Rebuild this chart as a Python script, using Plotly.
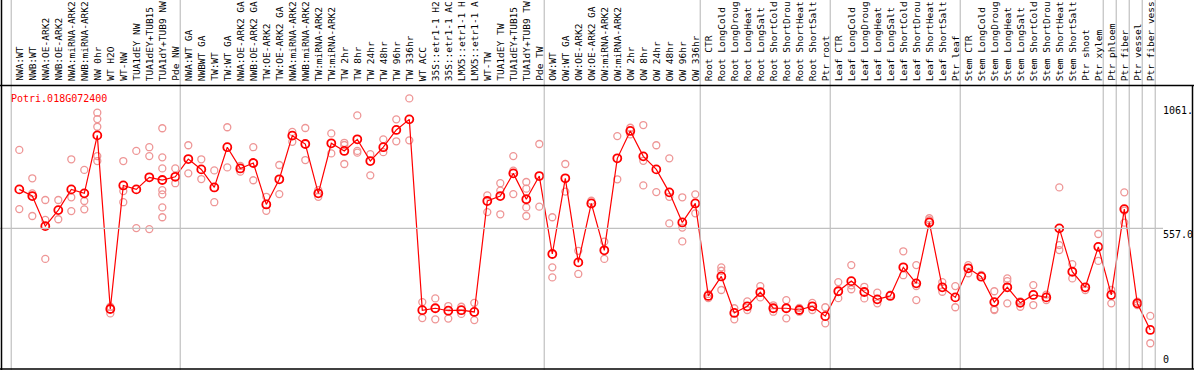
import plotly.graph_objects as go

gene = "Potri.018G072400"

categories = [
    "NWA:WT", "NWB:WT", "NWA:OE-ARK2", "NWB:OE-ARK2", "NWA:miRNA-ARK2", "NWB:miRNA-ARK2",
    "NW 0hr", "WT H2O", "WT-NW", "TUA1dEY NW", "TUA1dEY+TUB15 NW", "TUA1dY+TUB9 NW", "Pde NW",
    "NWA:WT GA", "NWBWT GA", "TW:WT", "TW:WT GA", "NWA:OE-ARK2 GA", "NWB:OE-ARK2 GA",
    "TW:OE-ARK2", "TW:OE-ARK2 GA", "NWA:miRNA-ARK2 GA", "NWB:miRNA-ARK2 GA", "TW:miRNA-ARK2",
    "TW:miRNA-ARK2 GA", "TW 2hr", "TW 8hr", "TW 24hr", "TW 48hr", "TW 96hr", "TW 336hr",
    "WT ACC", "35S::etr1-1 H2O", "35S::etr1-1 ACC", "LMX5::etr1-1 H2O", "LMX5::etr1-1 ACC",
    "WT-TW", "TUA1dEY TW", "TUA1dEY+TUB15 TW", "TUA1dY+TUB9 TW", "Pde TW",
    "OW:WT", "OW:WT GA", "OW:OE-ARK2", "OW:OE-ARK2 GA", "OW:miRNA-ARK2", "OW:miRNA-ARK2 GA",
    "OW 2hr", "OW 8hr", "OW 24hr", "OW 48hr", "OW 96hr", "OW 336hr",
    "Root CTR", "Root LongCold", "Root LongDrought", "Root LongHeat", "Root LongSalt",
    "Root ShortCold", "Root ShortDrought", "Root ShortHeat", "Root ShortSalt", "Ptr root",
    "Leaf CTR", "Leaf LongCold", "Leaf LongDrought", "Leaf LongHeat", "Leaf LongSalt",
    "Leaf ShortCold", "Leaf ShortDrought", "Leaf ShortHeat", "Leaf ShortSalt", "Ptr leaf",
    "Stem CTR", "Stem LongCold", "Stem LongDrought", "Stem LongHeat", "Stem LongSalt",
    "Stem ShortCold", "Stem ShortDrought", "Stem ShortHeat", "Stem ShortSalt", "Ptr shoot",
    "Ptr xylem", "Ptr phloem", "Ptr fiber", "Ptr vessel", "Ptr fiber vessel",
]

means = [
    715, 688, 566, 631, 715, 699, 934, 230, 731, 715, 764, 753, 766,
    838, 796, 723, 886, 800, 822, 654, 756, 933, 899, 699, 902, 871, 918, 830, 886, 956, 999,
    225, 233, 223, 225, 218, 668, 688, 780, 675, 769,
    453, 760, 419, 658, 468, 841, 952, 849, 796, 703, 581, 658,
    283, 362, 214, 241, 298, 233, 233, 226, 241, 201,
    302, 343, 299, 269, 283, 399, 334, 581, 318, 277,
    395, 361, 258, 318, 255, 287, 277, 557, 381, 318, 482,
    287, 635, 253, 145,
]

replicates = [
    [875, 635], [760, 699, 607], [672, 591, 433], [672, 594], [837, 683, 627], [794, 668, 634],
    [1026, 1000, 969, 850, 830], [239, 212], [830, 708, 663], [871, 558], [886, 850, 554],
    [963, 845, 800, 712, 695, 642, 602], [800, 740],
    [894, 780], [837, 757], [792, 663], [967, 804], [810, 787], [886, 752], [685, 628],
    [814, 696], [948, 908], [964, 834], [712, 685], [942, 861], [904, 895, 818],
    [1015, 871, 864], [858, 772], [918, 866], [999, 910], [1084, 914],
    [258, 193], [273, 188], [242, 191], [239, 210], [255, 185],
    [691, 623], [740, 710, 614], [850, 791, 696], [745, 718, 642, 607], [899, 645],
    [602, 399, 358], [818, 706], [466, 372], [669], [503, 433], [931, 756],
    [965, 938], [976, 831, 731], [894, 704], [841, 685, 577], [683, 560, 504], [695, 618],
    [291, 274], [399, 385, 307], [233, 188], [261, 226], [323, 277],
    [219, 245], [266, 192], [219, 234], [255, 226], [237, 172],
    [339, 274], [408, 326, 310], [320, 273], [296, 253], [288],
    [464, 367], [408, 323, 266], [598, 590], [339, 300], [323, 237],
    [408, 375], [368], [302, 229, 226], [354, 343, 253], [261, 239],
    [327, 246], [288, 266], [723, 489, 469], [412, 354], [307], [534, 425],
    [307, 253], [703, 580, 629], [260, 246], [202, 91],
]

group_starts = [0, 13, 41, 53, 63, 73, 84, 85, 86, 87, 88]
ref_line = 557.0
axis_labels = ["1061.", "557.0", "0"]
axis_values = [1061, 557, 0]
header_chars = 14

n = len(categories)
xs = list(range(n))

rep_x, rep_y = [], []
for i, vals in enumerate(replicates):
    for v in vals:
        rep_x.append(i)
        rep_y.append(v)

fig = go.Figure()
fig.add_trace(go.Scatter(
    x=rep_x, y=rep_y, mode="markers", hoverinfo="skip",
    marker=dict(symbol="circle-open", size=7, color="rgb(238,150,150)",
                line=dict(width=1.3, color="rgb(238,150,150)")),
))
fig.add_trace(go.Scatter(
    x=xs, y=means, mode="lines+markers",
    line=dict(color="red", width=1.2),
    marker=dict(symbol="circle-open", size=8, color="red",
                line=dict(width=1.8, color="red")),
))

mono = "DejaVu Sans Mono"
H = 370.0
W = 1194.0
shapes = []
for g in group_starts:
    shapes.append(dict(type="line", xref="x", yref="paper", x0=g - 0.62, x1=g - 0.62,
                       y0=0, y1=1, line=dict(color="#c0c0c0", width=1.2)))
shapes.append(dict(type="line", xref="paper", yref="y", x0=0, x1=1163 / W,
                   y0=ref_line, y1=ref_line, line=dict(color="#c0c0c0", width=1.2)))
shapes.append(dict(type="line", xref="paper", yref="paper", x0=1.5 / W, x1=1.5 / W,
                   y0=0, y1=1, line=dict(color="black", width=1.5)))
shapes.append(dict(type="line", xref="paper", yref="paper", x0=0, x1=1,
                   y0=1 - 85.5 / H, y1=1 - 85.5 / H, line=dict(color="black", width=1.5)))
shapes.append(dict(type="line", xref="paper", yref="paper", x0=0, x1=1,
                   y0=1 - 369 / H, y1=1 - 369 / H, line=dict(color="black", width=1.5)))
shapes.append(dict(type="line", xref="paper", yref="paper", x0=1192.5 / W, x1=1192.5 / W,
                   y0=1 - 369 / H, y1=1 - 85.5 / H, line=dict(color="black", width=1.5)))

annotations = []
for i, c in enumerate(categories):
    annotations.append(dict(x=i, xref="x", y=1 - 83 / H, yref="paper", text=c[:header_chars],
                            textangle=-90, showarrow=False, xanchor="center", yanchor="bottom",
                            font=dict(family=mono, size=9.5, color="black")))
annotations.append(dict(x=9 / W, xref="paper", y=1 - 91 / H, yref="paper", text=gene,
                        showarrow=False, xanchor="left", yanchor="top",
                        font=dict(family=mono, size=10, color="red")))
for lab, v in zip(axis_labels, axis_values):
    annotations.append(dict(x=1162 / W, xref="paper", y=v, yref="y", text=lab,
                            showarrow=False, xanchor="left",
                            yanchor="bottom" if v == 0 else "top",
                            font=dict(family=mono, size=10, color="black"),
                            borderpad=0))

fig.update_layout(
    width=1194, height=370,
    margin=dict(l=0, r=0, t=0, b=0),
    paper_bgcolor="white", plot_bgcolor="white",
    showlegend=False,
    xaxis=dict(range=[-19.3 / 13, (1194 - 19.3) / 13], visible=False, fixedrange=True),
    yaxis=dict(range=[-17.4, 1483.0], visible=False, fixedrange=True),
    shapes=shapes, annotations=annotations,
)

fig.write_html("out.html", config={"displayModeBar": False},
               post_script="document.body.style.margin='0';document.body.style.overflow='hidden';")
